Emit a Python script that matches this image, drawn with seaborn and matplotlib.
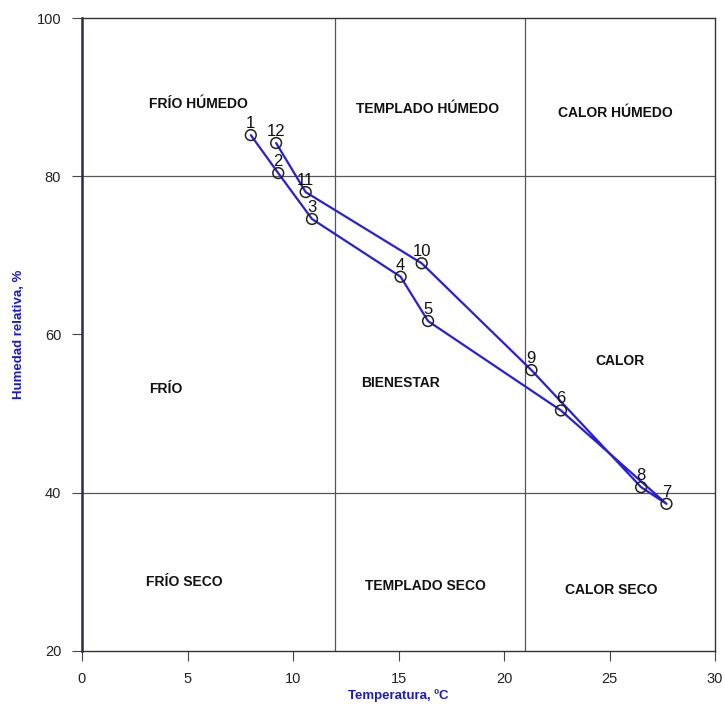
import matplotlib
matplotlib.use("Agg")
import matplotlib.pyplot as plt
import seaborn as sns
import pandas as pd

months = ["1", "2", "3", "4", "5", "6", "7", "8", "9", "10", "11", "12"]
temperature = [8.0, 9.3, 10.9, 15.1, 16.4, 22.7, 27.7, 26.5, 21.3, 16.1, 10.6, 9.2]
humidity = [85.2, 80.4, 74.6, 67.3, 61.7, 50.4, 38.6, 40.7, 55.5, 69.0, 78.0, 84.2]

zone_names = ["FRÍO HÚMEDO", "TEMPLADO HÚMEDO", "CALOR HÚMEDO",
              "FRÍO", "BIENESTAR", "CALOR",
              "FRÍO SECO", "TEMPLADO SECO", "CALOR SECO"]
zone_x = [5.5, 16.4, 25.3, 3.95, 15.1, 25.5, 4.85, 16.3, 25.1]
zone_y = [89.1, 88.5, 88.0, 53.1, 53.9, 56.6, 28.7, 28.2, 27.7]

temp_limits = [12, 21]
hum_limits = [40, 80]

df = pd.DataFrame({"mes": months, "T": temperature, "HR": humidity})

sns.set_theme(style="white")
plt.rcParams["font.family"] = ["Liberation Sans", "DejaVu Sans"]

fig = plt.figure(figsize=(7.25, 7.04), dpi=100)
ax = fig.add_axes([82/725, 1 - 651/704, (715 - 82)/725, (651 - 18)/704])

for t in temp_limits:
    ax.axvline(t, color="#555555", lw=0.9, zorder=1)
for h in hum_limits:
    ax.axhline(h, color="#555555", lw=0.9, zorder=1)

sns.lineplot(data=df, x="T", y="HR", sort=False, ax=ax, color="#2a1fd6",
             lw=1.6, zorder=2)
ax.scatter(df["T"], df["HR"], s=60, facecolors="none", edgecolors="#222222",
           linewidths=1.1, zorder=3)

for m, t, h in zip(months, temperature, humidity):
    ax.annotate(m, (t, h), xytext=(0, 3), textcoords="offset points",
                ha="center", va="bottom", fontsize=12, color="#111111", zorder=4)

for name, x, y in zip(zone_names, zone_x, zone_y):
    ax.text(x, y, name, ha="center", va="center", fontsize=10,
            fontweight="bold", color="#111111")

ax.set_xlim(0, 30)
ax.set_ylim(20, 100)
ax.set_xticks([0, 5, 10, 15, 20, 25, 30])
ax.set_yticks([20, 40, 60, 80, 100])
ax.tick_params(axis="both", direction="out", length=7, width=0.8,
               color="#444444", labelsize=10.5, labelcolor="#222222",
               bottom=True, left=True, pad=8)

for s in ax.spines.values():
    s.set_color("#333333")
    s.set_linewidth(1.0)
ax.spines["left"].set_linewidth(1.8)
ax.spines["left"].set_color("#2a2a50")

ax.set_xlabel("Temperatura, ºC", color="#1a1acc", fontweight="bold",
              fontsize=9.5, labelpad=2)
ax.set_ylabel("Humedad relativa, %", color="#1a1acc", fontweight="bold",
              fontsize=9.5, labelpad=8)

fig.savefig("out.png", dpi=100)
